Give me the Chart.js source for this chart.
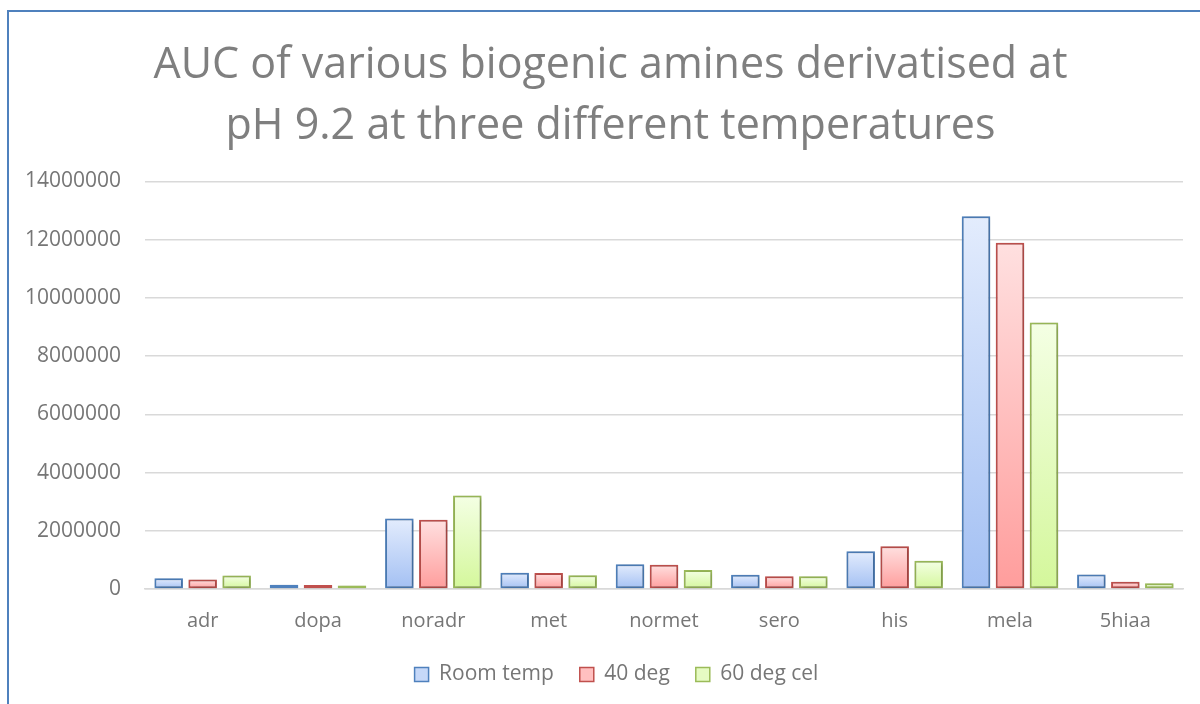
<!DOCTYPE html>
<html>
<head>
<meta charset="utf-8">
<script src="https://cdn.jsdelivr.net/npm/chart.js@4/dist/chart.umd.min.js"></script>
<style>
  html, body { margin: 0; padding: 0; background: #ffffff; }
  #wrap { position: relative; width: 1200px; height: 704px; overflow: hidden; }
  #frame {
    position: absolute; left: 7px; top: 10px; width: 1300px; height: 800px;
    border-left: 2px solid #4f81bd; border-top: 2px solid #4f81bd;
    box-sizing: border-box; pointer-events: none;
  }
  canvas { position: absolute; left: 0; top: 0; }
</style>
</head>
<body>
<div id="wrap">
  <canvas id="chart" width="1200" height="704"></canvas>
  <div id="frame"></div>
</div>
<script>
// Amines measured
const categories = ['adr', 'dopa', 'noradr', 'met', 'normet', 'sero', 'his', 'mela', '5hiaa'];

// Peak areas per derivatisation temperature
const roomTemp = [370000, 150000, 2420000, 560000, 850000, 490000, 1300000, 12800000, 500000];
const deg40    = [330000, 140000, 2380000, 550000, 830000, 440000, 1470000, 11890000, 250000];
const deg60cel = [460000, 120000, 3210000, 470000, 650000, 440000, 970000, 9150000, 200000];

const seriesNames = ['Room temp', '40 deg', '60 deg cel'];
const yTicks = [0, 2000000, 4000000, 6000000, 8000000, 10000000, 12000000, 14000000];

const titleLines = ['AUC of various biogenic amines derivatised at',
                    'pH 9.2 at three different temperatures'];

// Per-bar vertical gradient: pale at the top, deeper towards the baseline
function barGradient(top, bottom) {
  return function (ctx) {
    const chart = ctx.chart;
    const y = chart.scales && chart.scales.y;
    if (!y || ctx.type !== 'data') return bottom;
    const yTop = y.getPixelForValue(ctx.raw);
    const yBase = y.getPixelForValue(0);
    if (!isFinite(yTop) || !isFinite(yBase) || yBase - yTop < 1) return top;
    const g = chart.ctx.createLinearGradient(0, yTop, 0, yBase);
    g.addColorStop(0, top);
    g.addColorStop(1, bottom);
    return g;
  };
}

const palette = [
  { border: '#4f81bd', top: '#e3ecfd', bottom: '#a3c0f3', legend: '#c6d8f8' },
  { border: '#c0504d', top: '#ffe0e0', bottom: '#ff9d9c', legend: '#ffc0c0' },
  { border: '#9bbb59', top: '#f4ffe4', bottom: '#d4f79b', legend: '#e6fbc3' }
];

const seriesValues = [roomTemp, deg40, deg60cel];

// Soft drop shadow behind the bars
const barShadow = {
  id: 'barShadow',
  beforeDatasetsDraw(chart) {
    const c = chart.ctx;
    c.save();
    c.shadowColor = 'rgba(0,0,0,0.28)';
    c.shadowBlur = 4;
    c.shadowOffsetX = 1;
    c.shadowOffsetY = 1;
  },
  afterDatasetsDraw(chart) {
    chart.ctx.restore();
  }
};

// Title and legend are centred on the whole frame rather than the padded box
const centreBlocks = {
  id: 'centreBlocks',
  afterLayout(chart) {
    const shift = (b, dx) => { if (b) { b.left += dx; b.right += dx; } };
    shift(chart.titleBlock, 15);
    shift(chart.legend, 21);
  }
};

const FONT = '"Open Sans", "Noto Sans", sans-serif';

new Chart(document.getElementById('chart'), {
  type: 'bar',
  data: {
    labels: categories,
    datasets: seriesValues.map((vals, i) => ({
      label: seriesNames[i],
      data: vals,
      backgroundColor: barGradient(palette[i].top, palette[i].bottom),
      borderColor: palette[i].border,
      borderWidth: 2,
      borderSkipped: false,
      categoryPercentage: 0.884,
      barPercentage: 0.84
    }))
  },
  options: {
    responsive: false,
    animation: false,
    layout: { padding: { left: 8, right: 17, top: 36, bottom: 9 } },
    plugins: {
      title: {
        display: true,
        text: titleLines,
        color: '#7f7f7f',
        font: { family: FONT, size: 43, weight: 'normal', lineHeight: 1.4 },
        padding: { top: 0, bottom: 25 }
      },
      legend: {
        position: 'bottom',
        labels: {
          color: '#767676',
          font: { family: FONT, size: 21 },
          boxWidth: 14,
          boxHeight: 14,
          padding: 26,
          generateLabels(chart) {
            return chart.data.datasets.map((ds, i) => ({
              text: ds.label,
              fillStyle: palette[i].legend,
              strokeStyle: palette[i].border,
              lineWidth: 1.5,
              hidden: false,
              datasetIndex: i,
              fontColor: '#767676'
            }));
          }
        }
      },
      tooltip: { enabled: false }
    },
    scales: {
      x: {
        grid: { display: false, drawTicks: false },
        border: { display: true, color: '#d9d9d9', width: 1.5 },
        ticks: { color: '#767676', font: { family: FONT, size: 20 }, padding: 20 },
        afterFit(axis) { axis.height -= 15; }
      },
      y: {
        min: 0,
        max: 14000000,
        afterBuildTicks(axis) { axis.ticks = yTicks.map(v => ({ value: v })); },
        afterFit(axis) { axis.width = 137; },
        grid: { color: '#d9d9d9', lineWidth: 1.5, drawTicks: false },
        border: { display: false },
        ticks: {
          color: '#767676',
          font: { family: FONT, size: 21 },
          padding: 24,
          callback: v => String(v)
        }
      }
    }
  },
  plugins: [barShadow, centreBlocks]
});
</script>
</body>
</html>
